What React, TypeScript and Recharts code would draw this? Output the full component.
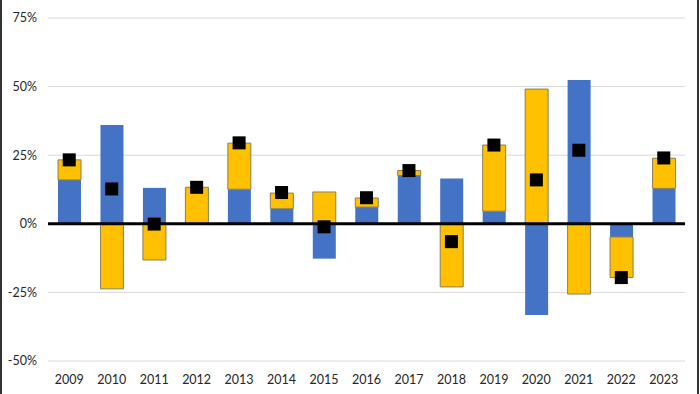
import {
  ComposedChart,
  Bar,
  Line,
  XAxis,
  YAxis,
  CartesianGrid,
  ReferenceLine,
} from "recharts";

const years = [
  "2009", "2010", "2011", "2012", "2013", "2014", "2015", "2016",
  "2017", "2018", "2019", "2020", "2021", "2022", "2023",
];
const blue = [16, 36, 13.1, 0, 12.6, 5.5, -12.7, 6.1, 17.6, 16.5, 4.6, -33.2, 52.4, -4.8, 12.9];
const yellow = [7.3, -23.7, -13.2, 13.3, 16.8, 5.7, 11.6, 3.3, 1.8, -23, 24.1, 49.1, -25.6, -14.8, 11];
const total = [23.3, 12.7, -0.1, 13.3, 29.5, 11.4, -1.1, 9.5, 19.4, -6.5, 28.7, 16, 26.8, -19.6, 24];
const yTicks = [-50, -25, 0, 25, 50, 75];

const data = years.map((year, i) => ({
  year,
  blue: blue[i],
  yellow: yellow[i],
  total: total[i],
}));

const font = { fontFamily: "Lato, 'Open Sans', sans-serif", fontSize: 12.5, fill: "#262626" };

const SquareDot = (props: any) => {
  const { cx, cy, index } = props;
  if (cx == null || cy == null) return null;
  return <rect key={`sq-${index}`} x={cx - 6.5} y={cy - 6.5} width={13} height={13} fill="#000" />;
};

export default function App() {
  return (
    <div style={{ position: "absolute", left: 0, top: 0, width: 700, height: 394, background: "#fff" }}>
      <ComposedChart
        width={700}
        height={394}
        data={data}
        stackOffset="sign"
        margin={{ top: 18, right: 15, bottom: 0, left: 0 }}
        barSize={23}
      >
        <CartesianGrid vertical={false} stroke="#d9d9d9" />
        <XAxis
          dataKey="year"
          axisLine={false}
          tickLine={false}
          tickSize={0}
          tickMargin={14}
          height={33}
          tick={font}
          interval={0}
        />
        <YAxis
          domain={[-50, 75]}
          ticks={yTicks}
          axisLine={false}
          tickLine={false}
          tickSize={0}
          tickMargin={11}
          width={48}
          tick={font}
          tickFormatter={(v) => `${v}%`}
        />
        <Bar dataKey="blue" stackId="a" fill="#4472C4" isAnimationActive={false} />
        <Bar dataKey="yellow" stackId="a" fill="#FFC000" stroke="#8c7f55" strokeWidth={1} isAnimationActive={false} />
        <ReferenceLine y={0} stroke="#000" strokeWidth={3} />
        <Line dataKey="total" stroke="none" dot={SquareDot} activeDot={false} isAnimationActive={false} />
      </ComposedChart>
      <div style={{ position: "absolute", left: 0, top: 0, width: 2, height: 394, background: "#333" }} />
      <div style={{ position: "absolute", left: 697, top: 0, width: 2, height: 394, background: "#333" }} />
    </div>
  );
}
